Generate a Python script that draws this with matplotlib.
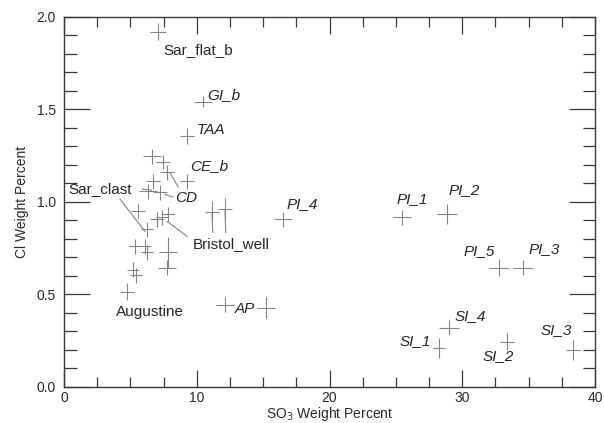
import matplotlib.pyplot as plt
from matplotlib.ticker import MultipleLocator

plt.rcParams['font.family'] = ['Liberation Sans', 'DejaVu Sans']

# SO3 / Cl weight percent for each sample, with the cross half-widths
so3 = [7.08, 10.47, 9.27, 16.50, 25.46, 28.85, 32.77, 34.58,
       29.00, 28.25, 33.37, 38.34, 12.13, 15.22,
       6.63, 7.46, 7.76, 9.27, 6.70, 6.33, 7.23, 5.57, 7.01, 7.83, 7.38,
       11.15, 12.13, 6.25, 5.35, 6.10, 6.25, 7.83, 7.76, 5.20, 5.42, 4.75]
cl = [1.921, 1.541, 1.356, 0.905, 0.916, 0.932, 0.644, 0.644,
      0.318, 0.209, 0.242, 0.198, 0.443, 0.427,
      1.247, 1.215, 1.160, 1.111, 1.111, 1.057, 1.052, 0.948, 0.905, 0.932, 0.916,
      0.943, 0.959, 0.851, 0.758, 0.758, 0.726, 0.726, 0.644, 0.633, 0.601, 0.514]
so3_err = [0.60, 0.65, 0.55, 0.65, 0.65, 0.75, 0.75, 0.75,
           0.75, 0.45, 0.55, 0.55, 0.65, 0.65,
           0.65, 0.55, 0.55, 0.55, 0.55, 0.65, 0.55, 0.55, 0.55, 0.55, 0.45,
           0.55, 0.55, 0.45, 0.45, 0.45, 0.45, 0.65, 0.65, 0.45, 0.45, 0.55]
cl_err = [0.045, 0.030, 0.045, 0.040, 0.040, 0.055, 0.045, 0.040,
          0.040, 0.055, 0.045, 0.055, 0.040, 0.055,
          0.040, 0.040, 0.040, 0.040, 0.040, 0.040, 0.040, 0.040, 0.040, 0.040, 0.040,
          0.060, 0.060, 0.040, 0.040, 0.040, 0.040, 0.085, 0.040, 0.040, 0.040, 0.045]

fig = plt.figure(figsize=(6.04, 4.23), dpi=100)
ax = fig.add_axes([64 / 604, 1 - 386.5 / 423, 531 / 604, 369.5 / 423])

ax.errorbar(so3, cl, xerr=so3_err, yerr=cl_err, fmt='none',
            ecolor='#858585', elinewidth=0.8, capsize=0)

# sample names: (text, x, y, italic)
labels = [
    ('Sar_flat_b', 7.46, 1.823, False),
    ('GI_b', 10.77, 1.579, True),
    ('TAA', 10.02, 1.389, True),
    ('CE_b', 9.49, 1.193, True),
    ('CD', 8.36, 1.019, True),
    ('Sar_clast', 0.30, 1.068, False),
    ('Bristol_well', 9.72, 0.769, False),
    ('Augustine', 3.92, 0.405, False),
    ('AP', 12.88, 0.421, True),
    ('PI_4', 16.80, 0.986, True),
    ('PI_1', 25.08, 1.014, True),
    ('PI_2', 28.93, 1.063, True),
    ('PI_5', 30.13, 0.731, True),
    ('PI_3', 35.03, 0.742, True),
    ('SI_4', 29.45, 0.383, True),
    ('SI_1', 25.31, 0.247, True),
    ('SI_2', 31.56, 0.166, True),
    ('SI_3', 35.93, 0.307, True),
]
for text, x, y, ital in labels:
    ax.text(x, y, text, fontsize=11, color='#262626', ha='left', va='center',
            style='italic' if ital else 'normal')

# leader lines from names to their crosses
leaders = [
    ((5.90, 1.068), (6.60, 1.062)),
    ((4.22, 1.014), (6.10, 0.840)),
    ((8.00, 1.155), (8.60, 1.080)),
    ((7.60, 1.040), (8.20, 1.025)),
    ((7.76, 0.894), (9.27, 0.813)),
    ((11.15, 0.943), (11.20, 0.834)),
    ((12.13, 0.959), (12.18, 0.834)),
]
for (x0, y0), (x1, y1) in leaders:
    ax.plot([x0, x1], [y0, y1], color='#858585', lw=0.8)

ax.set_xlim(0, 40)
ax.set_ylim(0, 2.0)
ax.xaxis.set_major_locator(MultipleLocator(10))
ax.xaxis.set_minor_locator(MultipleLocator(2.5))
ax.yaxis.set_major_locator(MultipleLocator(0.5))
ax.yaxis.set_minor_locator(MultipleLocator(0.1))

ax.tick_params(which='both', direction='in', top=True, right=True,
               colors='#3a3a3a', labelcolor='#2a2a2a', labelsize=10, width=0.9)
ax.tick_params(axis='x', which='major', length=12, pad=3)
ax.tick_params(axis='x', which='minor', length=7)
ax.tick_params(axis='y', which='major', length=19, pad=6)
ax.tick_params(axis='y', which='minor', length=9)
for s in ax.spines.values():
    s.set_color('#3a3a3a')
    s.set_linewidth(1.0)

ax.set_xlabel('SO$_3$ Weight Percent', fontsize=10, color='#2a2a2a', labelpad=0)
ax.set_ylabel('Cl Weight Percent', fontsize=10, color='#2a2a2a', labelpad=5)

fig.savefig('out.png', dpi=100)
